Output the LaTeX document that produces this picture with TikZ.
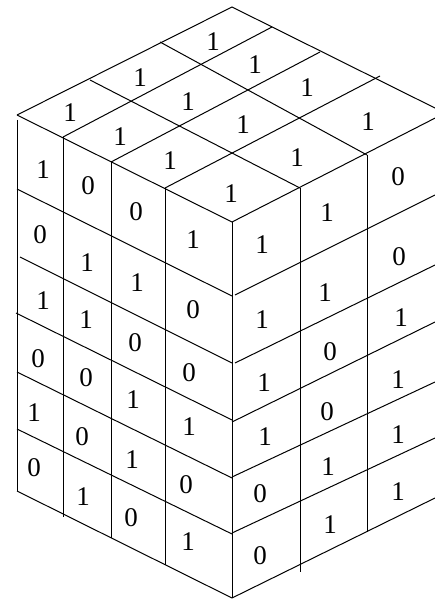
\documentclass[tikz,border=0pt]{standalone}
\usepackage{fontspec}
\setmainfont{Liberation Serif}
\begin{document}
\begin{tikzpicture}[x=1pt, y=-1pt, line width=1pt,
  digit/.style={font=\fontsize{27}{32}\selectfont, inner sep=0pt}]
  \useasboundingbox (0,0) rectangle (435,599);
  \clip (0,0) rectangle (435,599);
  \draw (17,115) -- (232,7) -- (445,113);
  \draw (17,115) -- (232,222) -- (445,113);
  \draw (90,80) -- (300,188);
  \draw (160,42) -- (367,155);
  \draw (63,137) -- (272,27);
  \draw (111,162) -- (320,52);
  \draw (165,188) -- (380,76);
  \draw (17,120) -- (17,491);
  \draw (63,137) -- (63,517);
  \draw (111,162) -- (111,538);
  \draw (165,188) -- (165,565);
  \draw (232,222) -- (232,598);
  \draw (17,189) -- (232,296);
  \draw (20,257) -- (232,363);
  \draw (16,313) -- (232,420);
  \draw (17,372) -- (232,478);
  \draw (17,429) -- (232,534);
  \draw (17,491) -- (232,598);
  \draw (300,188) -- (300,572);
  \draw (367,155) -- (367,532);
  \draw (235,295) -- (435,195);
  \draw (235,363) -- (435,265);
  \draw (232,422) -- (435,322);
  \draw (232,477) -- (435,382);
  \draw (232,533) -- (435,438);
  \draw (232,598) -- (435,498);
  \foreach \x/\y/\d [count=\i] in {213/42/1, 140/78/1, 70/113/1, 255/65/1, 188/102/1, 120/137/1,
      307/88/1, 243/125/1, 170/161/1, 368/122/1, 297/158/1, 231/194/1}
    \node[digit] (t\i) at (\x,\y) {\d};
  \foreach \x/\y/\d [count=\i] in {43/170/1, 40/235/0, 43/301/1, 38/359/0, 34/413/1, 34/468/0,
      88/186/0, 87/263/1, 86/320/1, 86/378/0, 82/437/0, 83/497/1,
      136/212/0, 137/283/1, 135/343/0, 133/400/1, 132/460/1, 131/518/0,
      193/240/1, 193/310/0, 189/373/0, 189/427/1, 186/485/0, 188/542/1}
    \node[digit] (l\i) at (\x,\y) {\d};
  \foreach \x/\y/\d [count=\i] in {262/245/1, 262/320/1, 264/383/1, 265/437/1, 260/494/0, 260/556/0,
      327/213/1, 325/293/1, 330/352/0, 327/412/0, 328/467/1, 330/525/1,
      398/177/0, 399/257/0, 401/318/1, 398/380/1, 398/435/1, 398/492/1}
    \node[digit] (r\i) at (\x,\y) {\d};
\end{tikzpicture}
\end{document}
